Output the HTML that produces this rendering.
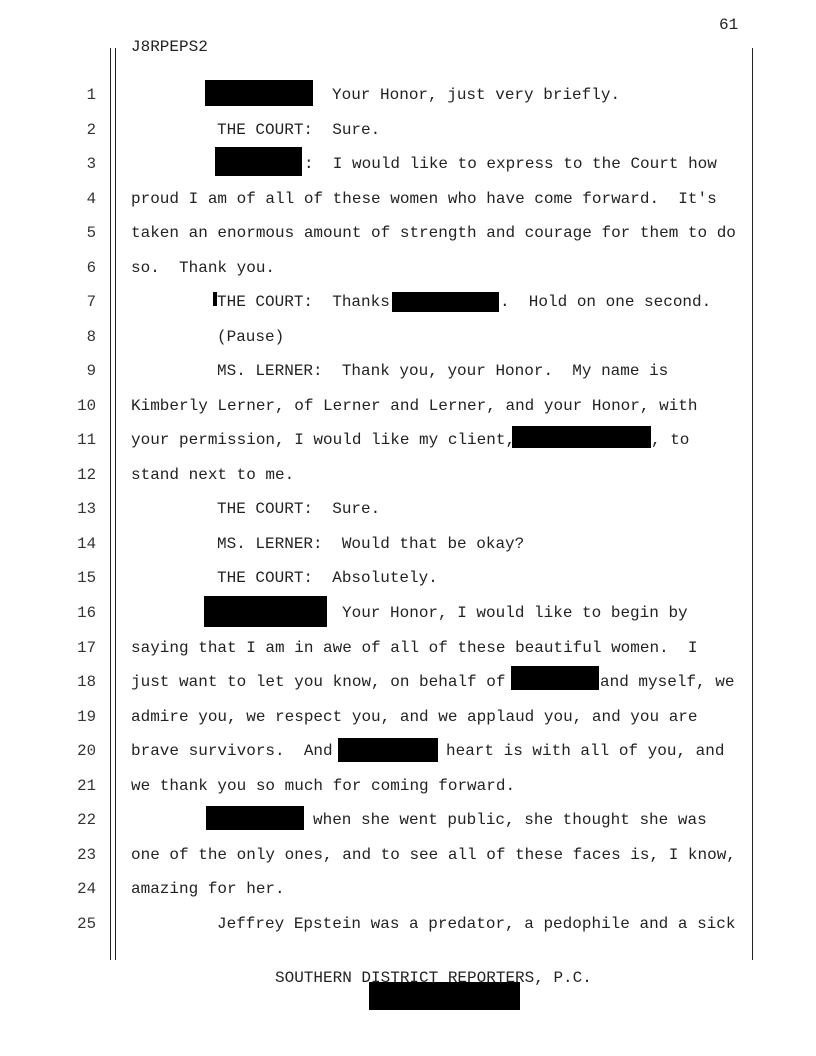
<!DOCTYPE html>
<html><head><meta charset="utf-8"><style>
body{margin:0;background:#fff;}
#p{position:relative;width:816px;height:1056px;overflow:hidden;font-family:"Liberation Mono","Courier New",monospace;font-size:16px;color:#222;}
.t{position:absolute;white-space:pre;line-height:20px;height:20px;}
.n{position:absolute;left:60px;width:36px;text-align:right;line-height:20px;color:#333;font-size:15.7px;}
.b{position:absolute;background:#000;}
.v{position:absolute;background:#222;width:1px;}
</style></head><body><div id="p">
<div class="v" style="left:110px;top:48px;height:912px"></div>
<div class="v" style="left:115px;top:48px;height:912px"></div>
<div class="v" style="left:752px;top:48px;height:912px"></div>
<div class="t" style="left:719px;top:15px">61</div>
<div class="t" style="left:131px;top:37px">J8RPEPS2</div>

<div class="n" style="top:85px">1</div>
<div class="n" style="top:120px">2</div>
<div class="n" style="top:154px">3</div>
<div class="n" style="top:189px">4</div>
<div class="n" style="top:223px">5</div>
<div class="n" style="top:258px">6</div>
<div class="n" style="top:292px">7</div>
<div class="n" style="top:327px">8</div>
<div class="n" style="top:361px">9</div>
<div class="n" style="top:396px">10</div>
<div class="n" style="top:430px">11</div>
<div class="n" style="top:465px">12</div>
<div class="n" style="top:499px">13</div>
<div class="n" style="top:534px">14</div>
<div class="n" style="top:568px">15</div>
<div class="n" style="top:603px">16</div>
<div class="n" style="top:638px">17</div>
<div class="n" style="top:672px">18</div>
<div class="n" style="top:707px">19</div>
<div class="n" style="top:741px">20</div>
<div class="n" style="top:776px">21</div>
<div class="n" style="top:810px">22</div>
<div class="n" style="top:845px">23</div>
<div class="n" style="top:879px">24</div>
<div class="n" style="top:914px">25</div>

<div class="t" style="left:332px;top:85px">Your Honor, just very briefly.</div>
<div class="t" style="left:217px;top:120px">THE COURT:  Sure.</div>
<div class="t" style="left:304px;top:154px">:  I would like to express to the Court how</div>
<div class="t" style="left:131px;top:189px">proud I am of all of these women who have come forward.  It's</div>
<div class="t" style="left:131px;top:223px">taken an enormous amount of strength and courage for them to do</div>
<div class="t" style="left:131px;top:258px">so.  Thank you.</div>
<div class="t" style="left:217px;top:292px">THE COURT:  Thanks</div>
<div class="t" style="left:500px;top:292px">.  Hold on one second.</div>
<div class="t" style="left:217px;top:327px">(Pause)</div>
<div class="t" style="left:217px;top:361px">MS. LERNER:  Thank you, your Honor.  My name is</div>
<div class="t" style="left:131px;top:396px">Kimberly Lerner, of Lerner and Lerner, and your Honor, with</div>
<div class="t" style="left:131px;top:430px">your permission, I would like my client,</div>
<div class="t" style="left:651px;top:430px">, to</div>
<div class="t" style="left:131px;top:465px">stand next to me.</div>
<div class="t" style="left:217px;top:499px">THE COURT:  Sure.</div>
<div class="t" style="left:217px;top:534px">MS. LERNER:  Would that be okay?</div>
<div class="t" style="left:217px;top:568px">THE COURT:  Absolutely.</div>
<div class="t" style="left:342px;top:603px">Your Honor, I would like to begin by</div>
<div class="t" style="left:131px;top:638px">saying that I am in awe of all of these beautiful women.  I</div>
<div class="t" style="left:131px;top:672px">just want to let you know, on behalf of</div>
<div class="t" style="left:600px;top:672px">and myself, we</div>
<div class="t" style="left:131px;top:707px">admire you, we respect you, and we applaud you, and you are</div>
<div class="t" style="left:131px;top:741px">brave survivors.  And</div>
<div class="t" style="left:446px;top:741px">heart is with all of you, and</div>
<div class="t" style="left:131px;top:776px">we thank you so much for coming forward.</div>
<div class="t" style="left:313px;top:810px">when she went public, she thought she was</div>
<div class="t" style="left:131px;top:845px">one of the only ones, and to see all of these faces is, I know,</div>
<div class="t" style="left:131px;top:879px">amazing for her.</div>
<div class="t" style="left:217px;top:914px">Jeffrey Epstein was a predator, a pedophile and a sick</div>

<div class="t" style="left:275px;top:968px">SOUTHERN DISTRICT REPORTERS, P.C.</div>

<div class="b" style="left:205px;top:80px;width:108px;height:26px"></div>
<div class="b" style="left:215px;top:147px;width:87px;height:29px"></div>
<div class="b" style="left:213px;top:292px;width:4px;height:14px"></div>
<div class="b" style="left:392px;top:292px;width:107px;height:20px"></div>
<div class="b" style="left:512px;top:426px;width:139px;height:22px"></div>
<div class="b" style="left:204px;top:596px;width:123px;height:31px"></div>
<div class="b" style="left:511px;top:666px;width:88px;height:24px"></div>
<div class="b" style="left:338px;top:738px;width:100px;height:24px"></div>
<div class="b" style="left:206px;top:806px;width:98px;height:24px"></div>
<div class="b" style="left:369px;top:982px;width:151px;height:28px"></div>
</div></body></html>
